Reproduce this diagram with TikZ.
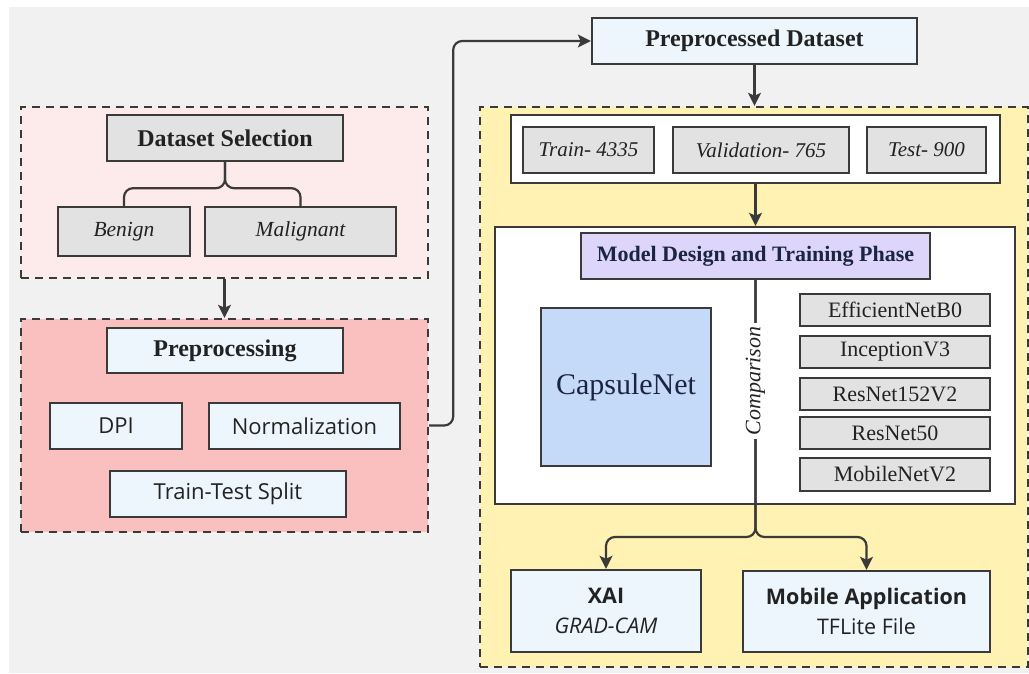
\documentclass[tikz,border=0pt]{standalone}
\usepackage{fontspec}
\setmainfont{Liberation Serif}
\newfontfamily\osans{Open Sans}
\usetikzlibrary{arrows.meta,calc}
\definecolor{bgc}{HTML}{F1F1F1}
\definecolor{pinkl}{HTML}{FDEBEB}
\definecolor{pinkd}{HTML}{FAC0C0}
\definecolor{ylw}{HTML}{FFF2B2}
\definecolor{lblue}{HTML}{ECF6FC}
\definecolor{gbx}{HTML}{E2E2E2}
\definecolor{lav}{HTML}{DDD6FA}
\definecolor{capb}{HTML}{C5D9F8}
\definecolor{edge}{HTML}{3A3A3A}
\definecolor{txt}{HTML}{222222}
\definecolor{navy}{HTML}{1C2540}
\tikzset{
  bx/.style={draw=edge, line width=2.4pt, text=txt, inner sep=0pt, align=center},
  graybox/.style={bx, fill=gbx},
  bluebox/.style={bx, fill=lblue},
  group/.style={draw=edge, line width=2.4pt, dash pattern=on 8pt off 6pt, inner sep=0pt},
  conn/.style={draw=edge, line width=2.2pt},
  arr/.style={conn, -{Stealth[length=13pt,width=13pt,inset=3pt]}},
  fbold/.style={font=\fontsize{24}{28}\selectfont\bfseries},
  fit22/.style={font=\fontsize{21.5}{26}\selectfont\itshape},
  fsans/.style={font=\fontsize{22}{26}\selectfont\osans},
  flist/.style={font=\fontsize{22}{26}\selectfont},
  twoline/.style={font=\fontsize{21.5}{30}\selectfont\osans}
}
\begin{document}
\begin{tikzpicture}[x=1pt,y=-1pt]
\useasboundingbox (0,0) rectangle (1029,673);
\fill[white] (0,0) rectangle (1029,673);
\fill[bgc] (9,7) rectangle (1029,673);

% left groups
\node[group, fill=pinkl, minimum width=407, minimum height=171] (sel) at (224.5,192.5) {};
\node[group, fill=pinkd, minimum width=407, minimum height=213] (pre) at (224.5,425.5) {};
\node[graybox, fbold, minimum width=236, minimum height=46] (ds) at (225,138) {Dataset Selection};
\node[graybox, fit22, minimum width=132, minimum height=49] (benign) at (124,231.5) {Benign};
\node[graybox, fit22, minimum width=191, minimum height=49] (malig) at (300.5,231.5) {Malignant};
\node[bluebox, fbold, minimum width=236, minimum height=45] (prep) at (225,350.5) {Preprocessing};
\node[bluebox, fsans, minimum width=132, minimum height=46] (dpi) at (116,426) {DPI};
\node[bluebox, fsans, minimum width=191, minimum height=46] (norm) at (304.5,426) {Normalization};
\node[bluebox, fsans, minimum width=236, minimum height=46] (tts) at (228,494) {Train-Test Split};

% right side
\node[bluebox, fbold, minimum width=325, minimum height=46] (ppd) at (754.5,41) {Preprocessed Dataset};
\node[group, fill=ylw, minimum width=548, minimum height=560] (yb) at (754,387) {};
\node[bx, fill=white, minimum width=489, minimum height=68] (splits) at (755.5,149) {};
\node[graybox, font=\fontsize{21}{26}\selectfont\itshape, minimum width=131, minimum height=46] (train) at (588.5,150) {Train- 4335};
\node[graybox, font=\fontsize{21}{26}\selectfont\itshape, minimum width=176, minimum height=46] (val) at (761,150) {Validation- 765};
\node[graybox, font=\fontsize{21}{26}\selectfont\itshape, minimum width=119, minimum height=46] (test) at (926.5,150) {Test- 900};

\node[bx, fill=white, minimum width=520, minimum height=277] (model) at (755,365.5) {};
\node[bx, fill=lav, text=navy, font=\fontsize{22}{26}\selectfont\bfseries, minimum width=349, minimum height=46] (hdr) at (755.5,256) {Model Design and Training Phase};
\node[bx, fill=capb, text=navy, font=\fontsize{30}{34}\selectfont, minimum width=170, minimum height=158] (caps) at (626,387) {CapsuleNet};
\node[graybox, flist, minimum width=190, minimum height=32] (m1) at (895,310) {EfficientNetB0};
\node[graybox, flist, minimum width=190, minimum height=32] (m2) at (895,352) {InceptionV3};
\node[graybox, flist, minimum width=190, minimum height=32] (m3) at (895,394) {ResNet152V2};
\node[graybox, flist, minimum width=190, minimum height=32] (m4) at (895,433) {ResNet50};
\node[graybox, flist, minimum width=190, minimum height=33] (m5) at (895,474.5) {MobileNetV2};

\node[bluebox, twoline, minimum width=190, minimum height=82] (xai) at (606,611) {\textbf{XAI}\\\textit{GRAD-CAM}};
\node[bluebox, twoline, minimum width=247, minimum height=81] (mob) at (866.5,611.5) {\textbf{Mobile Application}\\TFLite File};

% connectors
\draw[conn, rounded corners=9pt] (ds.south) -- ++(0,26) -| (benign.north);
\draw[conn, rounded corners=9pt] (ds.south) -- ++(0,26) -| (malig.north);
\draw[arr] (sel.south) -- (pre.north);
\draw[arr, rounded corners=9pt] (pre.east) -- ++(24,0) |- (ppd.west);
\draw[arr] (ppd.south) -- (ppd.south |- yb.north);
\draw[arr] (splits.south) -- (splits.south |- model.north);
\coordinate (br) at (hdr.south |- 0,537);
\draw[arr, rounded corners=9pt] (hdr.south) -- (br) -| (xai.north);
\draw[arr, rounded corners=9pt] (hdr.south) -- (br) -| (mob.north);
\node[fill=white, rotate=90, inner sep=4pt, text=txt, font=\fontsize{22}{26}\selectfont\itshape] (comp) at (hdr.south |- 0,381) {Comparison};
\end{tikzpicture}
\end{document}
